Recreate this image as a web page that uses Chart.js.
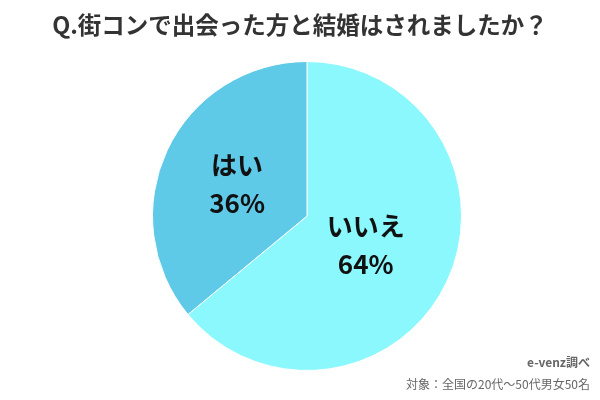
<!DOCTYPE html>
<html><head><meta charset="utf-8">
<script src="https://cdn.jsdelivr.net/npm/chart.js@4"></script>
<style>html,body{margin:0;background:#fff}#w{width:600px;height:400px}</style>
</head><body><div id="w"><canvas id="c"></canvas></div>
<script>
const categories = ["いいえ", "はい"];
const values = [64, 36];
const colors = ["#8BF8FE", "#5FC9E8"];
const FONT = '"Noto Sans CJK JP","Noto Sans",sans-serif';
const overlay = {
  id: 'overlay',
  afterDatasetsDraw(chart) {
    const ctx = chart.ctx;
    ctx.save();
    ctx.fillStyle = '#333';
    ctx.textAlign = 'center';
    ctx.textBaseline = 'middle';
    ctx.font = 'bold 23.5px ' + FONT;
    ctx.fillText('Q.街コンで出会った方と結婚はされましたか？', 300, 25);
    const meta = chart.getDatasetMeta(0);
    meta.data.forEach((arc, i) => {
      const p = arc.getProps(['x','y','startAngle','endAngle','outerRadius']);
      const a = (p.startAngle + p.endAngle) / 2;
      const f = i === 0 ? 0.42 : 0.5;
      const x = p.x + Math.cos(a) * p.outerRadius * f;
      const y = p.y + Math.sin(a) * p.outerRadius * f;
      ctx.fillStyle = '#111';
      ctx.font = 'bold 26px ' + FONT;
      ctx.fillText(categories[i], x, y - 18);
      ctx.fillText(values[i] + '%', x, y + 20);
    });
    ctx.fillStyle = '#666';
    ctx.textAlign = 'right';
    ctx.font = 'bold 12px ' + FONT;
    ctx.fillText('e-venz調べ', 590, 362);
    ctx.font = '12px ' + FONT;
    ctx.fillText('対象：全国の20代〜50代男女50名', 590, 384);
    ctx.restore();
  }
};
new Chart(document.getElementById('c'), {
  type: 'pie',
  data: { labels: categories, datasets: [{ data: values, backgroundColor: colors, borderColor: '#ffffff', borderWidth: 1 }] },
  options: {
    responsive: true, maintainAspectRatio: false, animation: false,
    layout: { padding: { top: 61, bottom: 29, left: 14, right: 0 } },
    plugins: { legend: { display: false }, tooltip: { enabled: false } }
  },
  plugins: [overlay]
});
</script></body></html>
